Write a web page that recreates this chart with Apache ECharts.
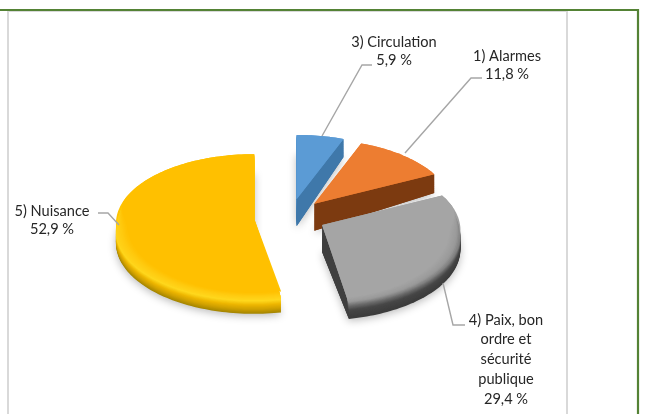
<!DOCTYPE html>
<html>
<head>
<meta charset="utf-8">
<style>html,body{margin:0;padding:0;background:#fff}#c{width:645px;height:414px;filter:blur(0.45px)}</style>
<script src="https://cdn.jsdelivr.net/npm/echarts@6/dist/echarts.min.js"></script>
</head>
<body>
<div id="c"></div>
<script>
const categories = ['3) Circulation', '1) Alarmes', '4) Paix, bon\nordre et\nsécurité\npublique', '5) Nuisance'];
const percents = [5.9, 11.8, 29.4, 52.9];

// appearance
const ramps = [
  ['#5B9BD5', '#4a86bd', '#4079ab', '#3f78aa'],
  ['#ED7D31', '#8a4212', '#7c3a10', '#773810'],
  ['#A5A5A5', '#9a9a9a', '#6a6a6a', '#474747', '#404040', '#3c3c3c'],
  ['#FFC000', '#FFCC12', '#FFD81E', '#EDB600', '#CFA000', '#A58600']
];
const topColors = ['#5B9BD5', '#ED7D31', '#A0A0A0', '#FFC400'];
const cutColors = ['#3f78aa', '#7c3a10', '#3f3f3f', '#A58600'];
const labelAnchors = [[394, 33], [507, 47], [506, 310], [52, 202]];
const leaders = [
  [[322, 136], [362, 65], [372, 65]],
  [[405, 153], [471, 78], [482, 78]],
  [[443, 283], [453, 325], [465, 325]],
  [[119, 225], [108, 213], [98, 213]]
];
// pie geometry
const CX = 290, CY = 217, RX = 138, RY = 69, EXPLODE = 0.26, PERSP = 0.07;
const LAYERS = 28, BEVEL = 11;

const total = percents.reduce((a, b) => a + b, 0);

function renderItem(params, api) {
  const i = api.value(1);
  const before = percents.slice(0, i).reduce((a, b) => a + b, 0);
  const a0 = before / total * 2 * Math.PI;
  const a1 = (before + api.value(0)) / total * 2 * Math.PI;
  const mid = (a0 + a1) / 2;
  const ax = CX + RX * EXPLODE * Math.sin(mid);
  const ay = CY - RY * EXPLODE * Math.cos(mid);
  const N = Math.max(16, Math.round((a1 - a0) * 40));
  const rim = (t, bevel) => {
    const pts = [];
    for (let k = 0; k <= N; k++) {
      const a = a0 + (a1 - a0) * k / N;
      const u = Math.sin(a), v = -Math.cos(a);
      const p = 1 / (1 - PERSP * v);
      const s = Math.max(0, Math.min(1, (v + 0.3) / 0.45));
      const w = s * s * (3 - 2 * s);
      const inset = bevel * Math.max(0, 1 - t / 0.3) * w;
      const d = 18 + 3 * (v + 1) / 2;
      pts.push([ax + RX * u * p - u * inset, ay + RY * v * p + t * d]);
    }
    return pts;
  };
  const children = [];
  const base = i * 1000;
  for (let l = LAYERS; l >= 0; l--) {
    const t = l / LAYERS;
    const style = { fill: echarts.color.lerp(t, ramps[i]) };
    if (l === LAYERS) {
      style.shadowBlur = 9;
      style.shadowColor = 'rgba(0,0,0,0.28)';
      style.shadowOffsetY = 2;
    }
    children.push({
      type: 'polygon',
      z2: base + (LAYERS - l) + 1,
      shape: { points: [[ax, ay + t * 27]].concat(rim(t, BEVEL)) },
      style: style,
      silent: true
    });
  }
  // full back silhouette under the bevelled layers
  children.push({
    type: 'polygon',
    z2: base + LAYERS - 8,
    shape: { points: [[ax, ay]].concat(rim(0, 0)) },
    style: { fill: topColors[i] },
    silent: true
  });
  // visible cut face at the clockwise end of the slice
  children.push({
    type: 'polygon',
    z2: base + LAYERS + 0,
    shape: { points: [[ax, ay], rim(0, BEVEL)[N], rim(1, BEVEL)[N], [ax, ay + 27]] },
    style: { fill: cutColors[i] },
    silent: true
  });
  // leader
  children.push({
    type: 'polyline',
    z2: 9000,
    shape: { points: leaders[i] },
    style: { stroke: '#a6a6a6', lineWidth: 1.4, fill: null },
    silent: true
  });
  // label
  children.push({
    type: 'text',
    z2: 9001,
    x: labelAnchors[i][0],
    y: labelAnchors[i][1],
    style: {
      text: categories[i] + '\n' + String(api.value(0)).replace('.', ',') + ' %',
      fontFamily: 'Lato',
      fontSize: 14.6,
      lineHeight: i === 2 ? 19.8 : 18.2,
      fill: '#262626',
      align: 'center',
      verticalAlign: 'top'
    },
    silent: true
  });
  return { type: 'group', children: children };
}

const chart = echarts.init(document.getElementById('c'), null, { width: 645, height: 414 });
chart.setOption({
  animation: false,
  backgroundColor: '#ffffff',
  graphic: [
    { type: 'polyline', z: -1, shape: { points: [[8, 414], [8, 11], [567, 11], [567, 414]] }, style: { stroke: '#d9d9d9', lineWidth: 2, fill: null } },
    { type: 'polyline', z: -1, shape: { points: [[0, 10], [638, 10], [638, 414]] }, style: { stroke: '#548235', lineWidth: 2.2, fill: null } }
  ],
  series: [{
    type: 'custom',
    coordinateSystem: 'none',
    renderItem: renderItem,
    data: percents.map((v, i) => [v, i]),
    clip: false
  }]
});
</script>
</body>
</html>
